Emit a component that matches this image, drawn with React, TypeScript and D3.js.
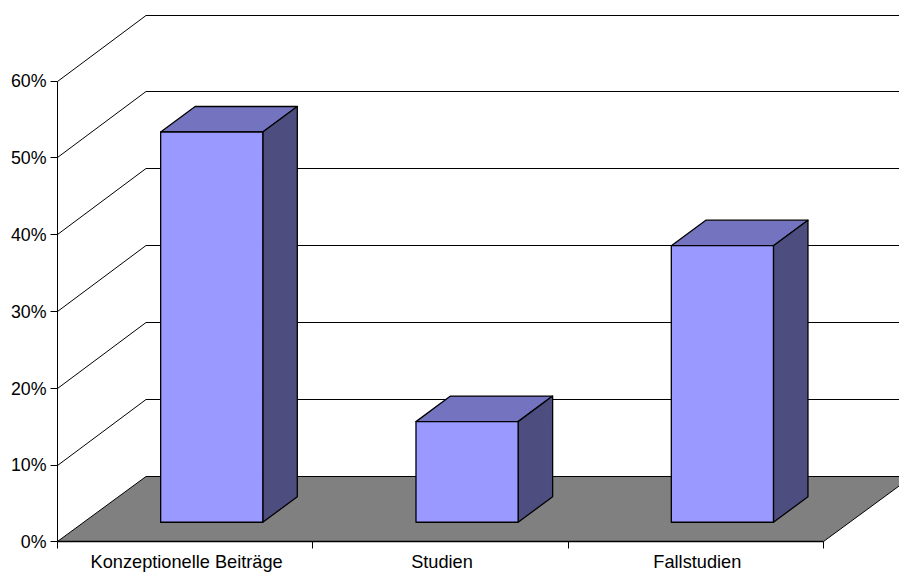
import React from "react";
import * as d3 from "d3";

// Share of publications per contribution type, in percent
const categories = ["Konzeptionelle Beiträge", "Studien", "Fallstudien"];
const shares = [50.8, 13.1, 36];
const percentTicks = [0, 10, 20, 30, 40, 50, 60];

const WIDTH = 899;
const HEIGHT = 572;
const FONT = "'Liberation Sans', Arial, sans-serif";
const FONT_SIZE = 18.2;
const TICK_FONT_SIZE = 17.8;

// Oblique projection: the whole plot depth and the bars' slab inside it
const depth = { dx: 88.5, dy: -65.5 };
const barDepthStart = 0.3;
const barDepthEnd = 0.69;

// Front plane of the value axis and the back wall that carries the gridlines
const y = d3.scaleLinear().domain([0, 60]).range([541.9, 81]);
const yBack = d3.scaleLinear().domain([0, 60]).range([476, 15]);
const x = d3.scaleBand<string>().domain(categories).range([57.5, 823.5]);

// Snap a coordinate to the centre of a pixel row or column
const crisp = (v: number) => Math.floor(v) + 0.5;

const project = (px: number, py: number, t: number): [number, number] => [
  px + depth.dx * t,
  py + depth.dy * t,
];

const polygon = (pts: [number, number][]) => d3.line()(pts) + "Z";

export default function App() {
  const y0 = crisp(y(0));
  const xLeft = x.range()[0];
  const xRight = x.range()[1];
  const xBack = xLeft + depth.dx;
  const xBackRight = xRight + depth.dx;
  const barWidth = x.bandwidth() * 0.4;
  const floorBack = crisp(yBack(0));

  const floor = polygon([
    [xLeft, y0],
    [xRight, y0],
    [xBackRight, floorBack],
    [xBack, floorBack],
  ]);

  return (
    <svg
      width={WIDTH}
      height={HEIGHT}
      viewBox={`0 0 ${WIDTH} ${HEIGHT}`}
      style={{ position: "absolute", left: 0, top: 0, background: "#fff" }}
      fontFamily={FONT}
    >
      {/* Floor of the 3D plot */}
      <path d={floor} fill="#808080" stroke="none" />

      {/* Gridlines: up the side wall, then along the back wall */}
      {percentTicks.map((t) => (
        <g key={t} fill="none" stroke="#000" strokeWidth={1}>
          <line x1={xLeft} y1={crisp(y(t))} x2={xBack} y2={crisp(yBack(t))} />
          <line x1={xBack} y1={crisp(yBack(t))} x2={xBackRight} y2={crisp(yBack(t))} />
        </g>
      ))}

      {/* Floor's right edge */}
      <line x1={xRight} y1={y0} x2={xBackRight} y2={floorBack} stroke="#000" strokeWidth={1} />

      {/* Value axis */}
      <line x1={xLeft} y1={crisp(y(60))} x2={xLeft} y2={y0} stroke="#000" />
      {percentTicks.map((t) => (
        <g key={t}>
          <line x1={xLeft - 7} x2={xLeft} y1={crisp(y(t))} y2={crisp(y(t))} stroke="#000" />
          <text
            x={46.5}
            y={y(t)}
            dy="0.36em"
            textAnchor="end"
            fontSize={TICK_FONT_SIZE}
            fill="#000"
          >
            {t}%
          </text>
        </g>
      ))}

      {/* Category axis */}
      <line x1={xLeft} x2={xRight} y1={y0} y2={y0} stroke="#000" strokeWidth={1.5} />
      {[xLeft, ...categories.map((c) => (x(c) as number) + x.bandwidth())].map((tx) => (
        <line key={tx} x1={crisp(tx)} x2={crisp(tx)} y1={y0} y2={y0 + 7} stroke="#000" />
      ))}
      {categories.map((c) => (
        <text
          key={c}
          x={(x(c) as number) + x.bandwidth() / 2 + 1.5}
          y={568}
          textAnchor="middle"
          fontSize={FONT_SIZE}
          fill="#000"
        >
          {c}
        </text>
      ))}

      {/* Bars as front, top and side faces */}
      {categories.map((c, i) => {
        const left = (x(c) as number) + (x.bandwidth() - barWidth) / 2;
        const right = left + barWidth;
        const frontBottom = project(left, y(0), barDepthStart);
        const frontBottomR = project(right, y(0), barDepthStart);
        const rise = y(0) - y(shares[i]);
        const frontTop: [number, number] = [frontBottom[0], frontBottom[1] - rise];
        const frontTopR: [number, number] = [frontBottomR[0], frontBottomR[1] - rise];
        const span = barDepthEnd - barDepthStart;
        const back = (p: [number, number]): [number, number] => project(p[0], p[1], span);
        return (
          <g key={c} stroke="#000" strokeWidth={1.3} strokeLinejoin="round">
            <path d={polygon([frontTop, frontTopR, back(frontTopR), back(frontTop)])} fill="#7373BF" />
            <path d={polygon([frontTopR, frontBottomR, back(frontBottomR), back(frontTopR)])} fill="#4D4D80" />
            <path d={polygon([frontTop, frontTopR, frontBottomR, frontBottom])} fill="#9999FF" />
          </g>
        );
      })}
    </svg>
  );
}
